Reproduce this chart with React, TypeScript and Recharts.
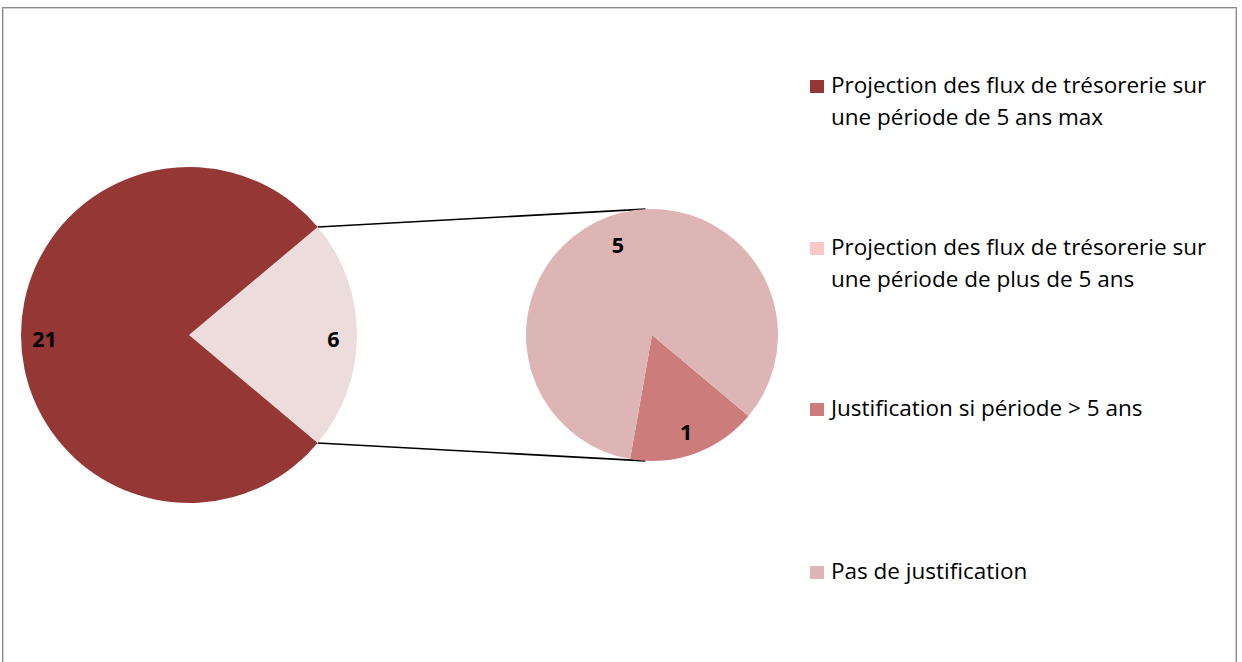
import React from 'react';
import { PieChart, Pie, Cell } from 'recharts';

// left pie: "autres" (6) is split into the small pie on the right
const mainNames = ['Autres', 'Projection des flux de trésorerie sur une période de 5 ans max'];
const mainValues = [6, 21];
const mainColors = ['#EDDCDC', '#953735'];

const splitNames = ['Justification si période > 5 ans', 'Pas de justification'];
const splitValues = [1, 5];
const splitColors = ['#CB7C7B', '#DDB5B4'];

const legendLabels = [
  ['Projection des flux de trésorerie sur', 'une période de 5 ans max'],
  ['Projection des flux de trésorerie sur', 'une période de plus de 5 ans'],
  ['Justification si période > 5 ans'],
  ['Pas de justification'],
];
const legendColors = ['#953735', '#FAC8C8', '#CB7C7B', '#DDB5B4'];
const legendTops = [69, 231, 392, 555];

const W = 1242;
const H = 662;
const FONT = '"Open Sans", "Noto Sans", sans-serif';

const main = { cx: 189, cy: 335, r: 168, start: -40 };
const split = { cx: 652, cy: 335, r: 126, start: -100 };

const mainData = mainValues.map((v, i) => ({ name: mainNames[i], value: v }));
const splitData = splitValues.map((v, i) => ({ name: splitNames[i], value: v }));

const RAD = Math.PI / 180;

const makeLabel = (frac: number) => (props: any) => {
  const { cx, cy, midAngle, outerRadius, value } = props;
  const r = outerRadius * frac;
  const x = cx + r * Math.cos(-midAngle * RAD);
  const y = cy + r * Math.sin(-midAngle * RAD) + 3;
  return (
    <text x={x} y={y} textAnchor="middle" dominantBaseline="central"
      fill="#000" fontFamily={FONT} fontWeight="bold" fontSize={21.5}>
      {value}
    </text>
  );
};

const App: React.FC = () => {
  const total = mainValues.reduce((a, b) => a + b, 0);
  const half = (mainValues[0] / total) * 180; // half of the "autres" slice angle
  const topL = { x: main.cx + main.r * Math.cos(half * RAD), y: main.cy - main.r * Math.sin(half * RAD) };
  const botL = { x: main.cx + main.r * Math.cos(half * RAD), y: main.cy + main.r * Math.sin(half * RAD) };
  const topR = { x: split.cx + split.r * Math.cos(93 * RAD), y: split.cy - split.r * Math.sin(93 * RAD) };
  const botR = { x: split.cx + split.r * Math.cos(93 * RAD), y: split.cy + split.r * Math.sin(93 * RAD) };

  return (
    <div style={{ position: 'absolute', left: 0, top: 0, width: W, height: H, background: '#fff', overflow: 'hidden' }}>
      <div style={{ position: 'absolute', left: 2, top: 7, width: 1233, height: 700, border: '1px solid #8a8a8a', boxShadow: 'inset 0 0 0 1px #d0d0d0' }} />
      <svg width={W} height={H} style={{ position: 'absolute', left: 0, top: 0 }}>
        <line x1={topL.x} y1={topL.y} x2={topR.x} y2={topR.y} stroke="#000" strokeWidth={1.6} />
        <line x1={botL.x} y1={botL.y} x2={botR.x} y2={botR.y} stroke="#000" strokeWidth={1.6} />
      </svg>
      <div style={{ position: 'absolute', left: 0, top: 0 }}>
        <PieChart width={W} height={H} margin={{ top: 0, right: 0, bottom: 0, left: 0 }}>
          <Pie data={mainData} dataKey="value" cx={main.cx} cy={main.cy} outerRadius={main.r}
            startAngle={main.start} endAngle={main.start + 360} stroke="none"
            label={makeLabel(0.86)} labelLine={false} isAnimationActive={false}>
            {mainData.map((d, i) => <Cell key={d.name} fill={mainColors[i]} />)}
          </Pie>
          <Pie data={splitData} dataKey="value" cx={split.cx} cy={split.cy} outerRadius={split.r}
            startAngle={split.start} endAngle={split.start + 360} stroke="none"
            label={makeLabel(0.79)} labelLine={false} isAnimationActive={false}>
            {splitData.map((d, i) => <Cell key={d.name} fill={splitColors[i]} />)}
          </Pie>
        </PieChart>
      </div>
      {legendLabels.map((lines, i) => (
        <div key={i} style={{ position: 'absolute', left: 810, top: legendTops[i], fontFamily: FONT, fontSize: 22.5, lineHeight: '32px', color: '#000' }}>
          <span style={{ position: 'absolute', left: 0, top: 11, width: 14, height: 13, background: legendColors[i] }} />
          {lines.map((l, j) => (
            <div key={j} style={{ marginLeft: 21, whiteSpace: 'nowrap' }}>{l}</div>
          ))}
        </div>
      ))}
    </div>
  );
};

export default App;
